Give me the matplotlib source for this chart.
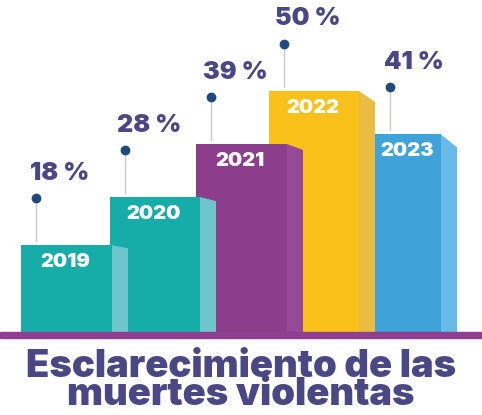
import matplotlib
matplotlib.use("Agg")
import matplotlib.pyplot as plt
from matplotlib.patches import Polygon

# datos
years = ["2019", "2020", "2021", "2022", "2023"]
values = [18, 28, 39, 50, 41]
title_lines = ["Esclarecimiento de las", "muertes violentas"]

# disposicion (pixeles) y colores
x_left = [21, 110, 196, 269, 375]
widths = [91, 90, 91, 90, 66]
depth = 16
drops = [3, 4, 6, 11, 13]
front_colors = ["#16ada9", "#16ada9", "#8c3e8c", "#fbc11b", "#3fa3da"]
side_colors = ["#6cc6cc", "#6cc6cc", "#944a97", "#e8bd42", "#67bbe9"]
base_color = "#8e3f8f"
text_color = "#4b4784"
dot_color = "#1e4a7e"
stem_color = "#c9cbd3"

W, H = 482, 415
px = 4.82          # pixeles por punto porcentual
base_px = 83       # linea base desde abajo

fig = plt.figure(figsize=(W / 100, H / 100), dpi=100)
ax = fig.add_axes([0, 0, 1, 1])
ax.set_xlim(0, W)
ax.set_ylim(-base_px / px, (H - base_px) / px)
ax.axis("off")

font = "Inter"

for i, (yr, v) in enumerate(zip(years, values)):
    z = 20 - 2 * i
    x0, w = x_left[i], widths[i]
    ax.bar(x0, v, width=w, align="edge", color=front_colors[i], zorder=z)
    xr = x0 + w
    side = Polygon([(xr, 0), (xr, v), (xr + depth, v - drops[i] / px), (xr + depth, 0)],
                   closed=True, facecolor=side_colors[i], edgecolor="none", zorder=z)
    ax.add_patch(side)
    ax.text(x0 + w / 2 - 1, v - 17 / px, yr, color="white", fontsize=14.5,
            fontweight="black", family=font, ha="center", va="center", zorder=z + 1)

    # marcador y porcentaje
    xd = x0 + 15
    ax.plot([xd, xd], [v + 4 / px, v + 47 / px], color=stem_color, lw=1, zorder=30)
    ax.plot(xd, v + 47 / px, "o", color=dot_color, ms=6, zorder=31)
    ax.text(xd + 24, v + 72 / px, f"{v} %", color=text_color, fontsize=18,
            fontweight="black", family=font, ha="center", va="center", zorder=31)

ax.axhspan(-6 / px, 0, color=base_color, zorder=40)

# titulo en dos lineas muy juntas (baseline = ultima linea)
fig.text(0.5, (H - 405) / H, "\n".join(title_lines), color=text_color, fontsize=27.5,
         fontweight="black", family=font, ha="center", va="baseline",
         multialignment="center", linespacing=0.72)

fig.savefig("out.png", dpi=100)
